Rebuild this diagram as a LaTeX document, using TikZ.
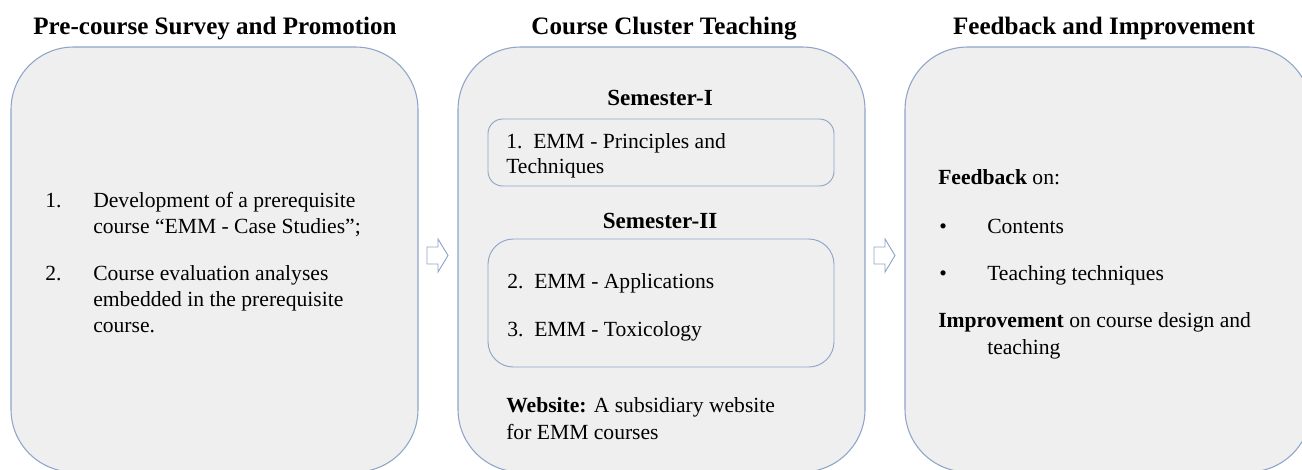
\documentclass[tikz,border=0pt]{standalone}
\usepackage{fontspec}
\setmainfont{Liberation Serif}
\definecolor{boxfill}{HTML}{EFEFEF}
\definecolor{boxline}{HTML}{8EA5C9}
\tikzset{
  bigbox/.style={draw=boxline, fill=boxfill, line width=0.8pt, rounded corners=47pt},
  innerbox/.style={draw=boxline, fill=boxfill, line width=0.7pt},
  blockarrow/.style={draw=boxline, fill=white, line width=0.7pt, line join=miter},
  title/.style={anchor=base, inner sep=0pt, font=\fontsize{18.8}{22}\selectfont\bfseries},
  semtitle/.style={anchor=base, inner sep=0pt, font=\fontsize{17.3}{21}\selectfont\bfseries},
  txt/.style={anchor=base west, inner sep=0pt, font=\fontsize{16.2}{20}\selectfont},
}
\begin{document}
\begin{tikzpicture}[x=0.75pt,y=-0.75pt]
\useasboundingbox (0,0) rectangle (1302,469);
\clip (0,0) rectangle (1302,469);
% titles
\node[title] (t1) at (215,34) {Pre-course Survey and Promotion};
\node[title] (t2) at (664,34) {Course Cluster Teaching};
\node[title] (t3) at (1104,34) {Feedback and Improvement};
% big boxes
\draw[bigbox] (11,47) rectangle (418,472);
\draw[bigbox] (458,47) rectangle (865,472);
\draw[bigbox] (905,47) rectangle (1311,472);
% arrows
\draw[blockarrow] (427,247) -- (438,247) -- (438,239) -- (448,255.5) -- (438,272) -- (438,264) -- (427,264) -- cycle;
\draw[blockarrow] (874,247) -- (885,247) -- (885,239) -- (895,255.5) -- (885,272) -- (885,264) -- (874,264) -- cycle;
% left box text
\node[txt] (n1) at (45,207) {1.};
\node[txt] (l1a) at (93,207) {Development of a prerequisite};
\node[txt] (l1b) at (93,233) {course “EMM - Case Studies”;};
\node[txt] (n2) at (45,280) {2.};
\node[txt] (l2a) at (93,280) {Course evaluation analyses};
\node[txt] (l2b) at (93,306) {embedded in the prerequisite};
\node[txt] (l2c) at (93,332) {course.};
% middle box
\node[semtitle] (s1) at (660,105) {Semester-I};
\draw[innerbox, rounded corners=11pt] (488,119) rectangle (834,186);
\node[txt] (m1a) at (506,148) {1.\ \ EMM - Principles and};
\node[txt] (m1b) at (506,173) {Techniques};
\node[semtitle] (s2) at (660,228) {Semester-II};
\draw[innerbox, rounded corners=19pt] (488,239) rectangle (834,367);
\node[txt] (m2) at (507,288) {2.\ \ EMM - Applications};
\node[txt] (m3) at (507,336) {3.\ \ EMM - Toxicology};
\node[txt] (w1) at (506,412) {\textbf{Website:} A subsidiary website};
\node[txt] (w2) at (506,439) {for EMM courses};
% right box
\node[txt] (f1) at (938,184) {\textbf{Feedback} on:};
\node[txt] (b1) at (939,233) {•};
\node[txt] (f2) at (987,233) {Contents};
\node[txt] (b2) at (939,280) {•};
\node[txt] (f3) at (987,280) {Teaching techniques};
\node[txt] (f4) at (938,327) {\textbf{Improvement} on course design and};
\node[txt] (f5) at (987,354) {teaching};
\end{tikzpicture}
\end{document}
